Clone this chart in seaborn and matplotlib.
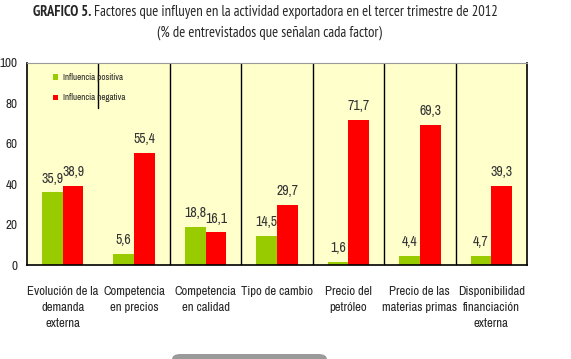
import matplotlib
matplotlib.use("Agg")
import matplotlib.pyplot as plt
import seaborn as sns
import pandas as pd
from matplotlib.patches import FancyBboxPatch

categories = ["Evolución de la\ndemanda\nexterna", "Competencia\nen precios", "Competencia\nen calidad",
              "Tipo de cambio", "Precio del\npetróleo", "Precio de las\nmaterias primas",
              "Disponibilidad\nfinanciación\nexterna"]
positiva = [35.9, 5.6, 18.8, 14.5, 1.6, 4.4, 4.7]
negativa = [38.9, 55.4, 16.1, 29.7, 71.7, 69.3, 39.3]
series = ["Influencia positiva", "Influencia negativa"]
yticks = [0, 20, 40, 60, 80, 100]
title_bold = "GRAFICO 5."
title_rest = "Factores que influyen en la actividad exportadora en el tercer trimestre de 2012"
subtitle = "(% de entrevistados que señalan cada factor)"

NARROW = ["Archivo Narrow", "DejaVu Sans"]
TITLE = ["PT Sans Narrow", "DejaVu Sans"]

sns.set_style("white")
plt.rcParams["font.family"] = NARROW

df = pd.DataFrame({
    "cat": categories * 2,
    "serie": [series[0]] * len(categories) + [series[1]] * len(categories),
    "val": positiva + negativa,
})

W, H = 571, 359
fig = plt.figure(figsize=(W / 100, H / 100), dpi=100)
ax = fig.add_axes([27 / W, 1 - 265 / H, 500 / W, 202 / H])
ax.set_facecolor("#FFFFCC")

sns.barplot(data=df, x="cat", y="val", hue="serie", order=categories, hue_order=series,
            palette=["#99CC00", "#FF0000"], width=0.58, saturation=1, ax=ax, errorbar=None,
            linewidth=0)

for cont in ax.containers:
    labels = [f"{v:.1f}".replace(".", ",") for v in cont.datavalues]
    ax.bar_label(cont, labels=labels, padding=5, fontsize=10, color="#333333")

ax.set_xlim(-0.5, len(categories) - 0.5)
ax.set_ylim(0, 100)
ax.set_yticks(yticks)
ax.set_yticklabels([str(t) for t in yticks], fontsize=9.5)
ax.set_xlabel("")
ax.set_ylabel("")
ax.set_xticks(range(len(categories)))
ax.set_xticklabels(categories, fontsize=9.2, linespacing=1.55)
ax.tick_params(axis="x", which="major", length=0, pad=15)
ax.set_xticks([i - 0.5 for i in range(len(categories) + 1)], minor=True)
ax.tick_params(axis="x", which="minor", length=5, direction="out", width=1.2, color="black")
ax.tick_params(axis="y", length=4, direction="out", width=1.2, color="black", pad=3)

for i in range(len(categories) - 1):
    ymin = 0.775 if i == 0 else 0
    ax.axvline(i + 0.5, ymin=ymin, ymax=1, color="black", lw=1)

for s in ["left", "bottom", "right"]:
    ax.spines[s].set_color("black")
    ax.spines[s].set_linewidth(1.2)
ax.spines["top"].set_color("#999999")
ax.spines["top"].set_linewidth(0.8)

ax.legend(loc="upper left", bbox_to_anchor=(0.035, 0.99), frameon=False, fontsize=6.5,
          handlelength=0.55, handleheight=0.55, labelspacing=1.25, handletextpad=0.6)

# title: fit to reference width
fs = 11
y1 = 1 - 12 / H
tb = fig.text(0, y1, title_bold, fontsize=fs, fontweight="bold", va="center", ha="left", family=TITLE)
tr = fig.text(0, y1, " " + title_rest, fontsize=fs, va="center", ha="left", family=TITLE)
fig.canvas.draw()
r = fig.canvas.get_renderer()
wb = tb.get_window_extent(r).width
wr = tr.get_window_extent(r).width
scale = 465 / (wb + wr)
fs2 = fs * scale
tb.set_fontsize(fs2)
tr.set_fontsize(fs2)
x0 = 33
tb.set_x(x0 / W)
tr.set_x((x0 + wb * scale) / W)
fig.text(269 / W, 1 - 33 / H, subtitle, fontsize=fs2, va="center", ha="center", family=TITLE)

bar = FancyBboxPatch((172 / W, -4 / H), 155 / W, 9 / H, boxstyle="round,pad=0,rounding_size=0.015",
                     transform=fig.transFigure, facecolor="#9a9a9a", edgecolor="none")
fig.patches.append(bar)

fig.savefig("out.png", dpi=100)
